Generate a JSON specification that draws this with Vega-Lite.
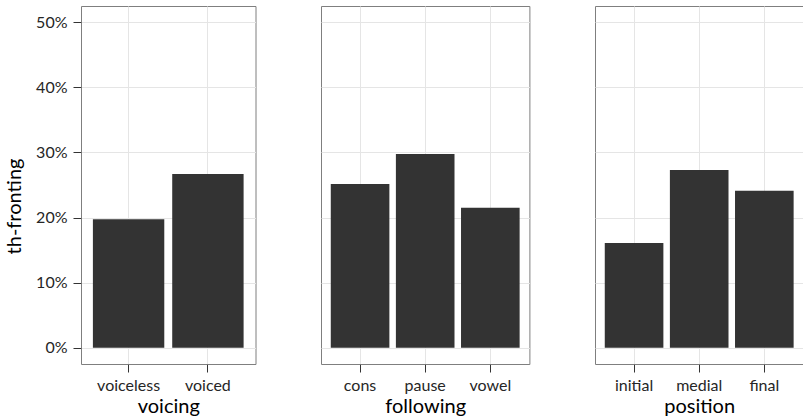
{
  "$schema": "https://vega.github.io/schema/vega-lite/v6.json",
  "background": "white",
  "padding": {"left": 3, "top": 5, "right": 1, "bottom": 0},
  "bounds": "flush",
  "spacing": 65,
  "config": {
    "font": "Lato",
    "view": {"stroke": "#7f7f7f", "strokeWidth": 1},
    "axis": {
      "domain": false,
      "grid": true,
      "gridColor": "#e5e5e5",
      "gridWidth": 1,
      "labelFont": "Lato",
      "labelFontSize": 16,
      "labelColor": "#262626",
      "titleFont": "Lato",
      "titleFontSize": 20,
      "titleFontWeight": "normal",
      "titleColor": "#000000",
      "tickColor": "#333333",
      "tickSize": 8,
      "labelPadding": 5
    }
  },
  "datasets": {
    "voicing": [
      {"level": "voiceless", "rate": 0.1975},
      {"level": "voiced", "rate": 0.267}
    ],
    "following": [
      {"level": "cons", "rate": 0.2516},
      {"level": "pause", "rate": 0.2976},
      {"level": "vowel", "rate": 0.2149}
    ],
    "position": [
      {"level": "initial", "rate": 0.161},
      {"level": "medial", "rate": 0.273},
      {"level": "final", "rate": 0.241}
    ]
  },
  "hconcat": [
    {
      "width": 174.5,
      "height": 358,
      "data": {"name": "voicing"},
      "resolve": {"axis": {"y": "independent"}},
      "layer": [
        {
          "mark": {"type": "bar", "color": "#333333"},
          "encoding": {
            "x": {"field": "level", "type": "nominal", "sort": null, "title": "voicing",
              "scale": {"paddingInner": 0.1, "paddingOuter": 0.15},
              "axis": {"labelAngle": 0, "bandPosition": 0.5, "titleY": 48, "titleBaseline": "alphabetic"}},
            "y": {"field": "rate", "type": "quantitative", "title": "th-fronting",
              "scale": {"domain": [-0.025, 0.525], "nice": false, "zero": false},
              "axis": {"format": ".0%", "values": [0, 0.1, 0.2, 0.3, 0.4, 0.5], "labelPadding": 6,
                "titleX": -61, "titleY": 200, "titleBaseline": "alphabetic", "titleAlign": "center", "titleAngle": -90}}
          }
        },
        {
          "mark": {"type": "bar", "opacity": 0},
          "encoding": {
            "x": {"field": "level", "type": "nominal", "sort": null},
            "y": {"field": "rate", "type": "quantitative",
              "axis": {"orient": "right", "values": [0.05, 0.15, 0.25, 0.35, 0.45], "gridColor": "#f4f4f4", "labels": false, "ticks": false, "title": null}}
          }
        }
      ]
    },
    {
      "width": 208.4,
      "height": 358,
      "data": {"name": "following"},
      "resolve": {"axis": {"y": "independent"}},
      "layer": [
        {
          "mark": {"type": "bar", "color": "#333333"},
          "encoding": {
            "x": {"field": "level", "type": "nominal", "sort": null, "title": "following",
              "scale": {"paddingInner": 0.1, "paddingOuter": 0.15},
              "axis": {"labelAngle": 0, "bandPosition": 0.5, "titleY": 48, "titleBaseline": "alphabetic"}},
            "y": {"field": "rate", "type": "quantitative", "title": null,
              "scale": {"domain": [-0.025, 0.525], "nice": false, "zero": false},
              "axis": {"values": [0, 0.1, 0.2, 0.3, 0.4, 0.5], "labels": false, "ticks": false}}
          }
        },
        {
          "mark": {"type": "bar", "opacity": 0},
          "encoding": {
            "x": {"field": "level", "type": "nominal", "sort": null},
            "y": {"field": "rate", "type": "quantitative",
              "axis": {"orient": "right", "values": [0.05, 0.15, 0.25, 0.35, 0.45], "gridColor": "#f4f4f4", "labels": false, "ticks": false, "title": null}}
          }
        }
      ]
    },
    {
      "width": 208.4,
      "height": 358,
      "data": {"name": "position"},
      "resolve": {"axis": {"y": "independent"}},
      "layer": [
        {
          "mark": {"type": "bar", "color": "#333333"},
          "encoding": {
            "x": {"field": "level", "type": "nominal", "sort": null, "title": "position",
              "scale": {"paddingInner": 0.1, "paddingOuter": 0.15},
              "axis": {"labelAngle": 0, "bandPosition": 0.5, "titleY": 48, "titleBaseline": "alphabetic"}},
            "y": {"field": "rate", "type": "quantitative", "title": null,
              "scale": {"domain": [-0.025, 0.525], "nice": false, "zero": false},
              "axis": {"values": [0, 0.1, 0.2, 0.3, 0.4, 0.5], "labels": false, "ticks": false}}
          }
        },
        {
          "mark": {"type": "bar", "opacity": 0},
          "encoding": {
            "x": {"field": "level", "type": "nominal", "sort": null},
            "y": {"field": "rate", "type": "quantitative",
              "axis": {"orient": "right", "values": [0.05, 0.15, 0.25, 0.35, 0.45], "gridColor": "#f4f4f4", "labels": false, "ticks": false, "title": null}}
          }
        }
      ]
    }
  ]
}
